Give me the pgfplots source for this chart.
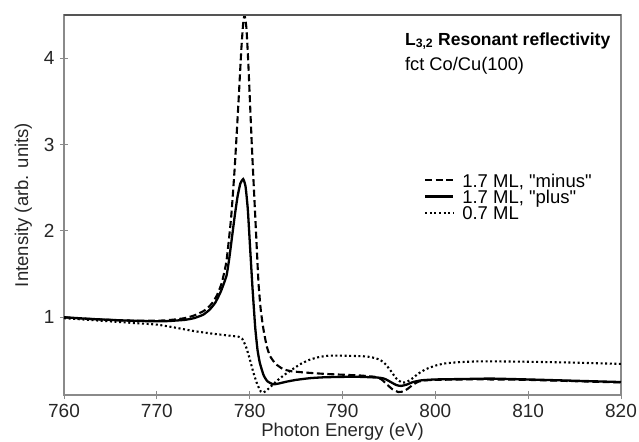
\documentclass[border=0pt]{standalone}
\usepackage{fontspec}
\setmainfont{Liberation Sans}[Ligatures=TeXOff]
\usepackage{pgfplots}
\pgfplotsset{compat=1.18}
\definecolor{axgray}{HTML}{8A8A8A}
\definecolor{topgray}{HTML}{555555}
\newcommand{\lstrut}{\rule[-3.6bp]{0pt}{14bp}}
\begin{document}
\begin{tikzpicture}
\path[use as bounding box] (-64bp,-47bp) rectangle (575bp,395bp);
\begin{axis}[
  at={(0,0)}, anchor=south west,
  scale only axis, width=557bp, height=380bp,
  xmin=760, xmax=820, ymin=0.1, ymax=4.5,
  xtick={760,770,...,820}, ytick={1,2,3,4},
  tick pos=left, tick align=center, major tick length=8bp,
  tick style={axgray, line width=0.9bp},
  axis line style={axgray, line width=1.1bp},
  /pgf/number format/assume math mode=true,
  /pgf/number format/1000 sep={},
  ticklabel style={font=\fontsize{19bp}{22bp}\selectfont, text=black!85},
  xticklabel style={yshift=-2bp},
  yticklabel style={xshift=-2bp},
  xlabel={Photon Energy (eV)},
  ylabel={Intensity (arb. units)},
  label style={font=\fontsize{18.5bp}{22bp}\selectfont, text=black!85},
  xlabel style={at={(axis description cs:0.5,-0.097)}, anchor=center},
  ylabel style={at={(axis description cs:-0.073,0.5)}, anchor=center},
  legend image code/.code={\draw[#1] (0bp,1.5bp) -- (28bp,1.5bp); \path (36bp,0bp);},
  legend style={at={(axis description cs:0.646,0.582)}, anchor=north west,
    draw=none, fill=none, inner sep=0pt, row sep=1.6bp,
    font=\fontsize{18.5bp}{22bp}\selectfont,
    nodes={inner sep=0pt}},
  legend cell align=left,
]
\addplot[black, line width=2.1bp, dash pattern=on 7bp off 3.5bp, smooth, tension=0.3] coordinates {
(760,1.00) (762,0.985) (764,0.975) (766,0.965) (768,0.96) (770,0.96) (771,0.965)
(772,0.975) (773,0.99) (774,1.02) (775,1.07) (775.5,1.11) (776,1.17) (776.5,1.26)
(777,1.40) (777.5,1.65) (778,2.15) (778.4,2.75) (778.8,3.5) (779.1,4.1) (779.3,4.4)
(779.45,4.5) (779.65,4.35) (779.85,3.95) (780.05,3.45) (780.25,2.95) (780.45,2.5)
(780.7,1.95) (780.95,1.4) (781.2,1.08) (781.5,0.85) (781.85,0.66) (782.2,0.55)
(782.8,0.46) (783.6,0.40) (784.5,0.375) (786,0.36) (788,0.345) (790,0.335) (792,0.325)
(793.5,0.31) (794.2,0.28) (794.8,0.22) (795.4,0.165) (796.0,0.135) (796.5,0.14)
(797.0,0.17) (797.6,0.22) (798.2,0.255) (799,0.27) (800,0.275) (803,0.28) (806,0.28)
(810,0.275) (815,0.26) (820,0.245)
};
\addlegendentry{\lstrut 1.7 ML, "minus"}
\addplot[black, line width=2.3bp, smooth, tension=0.3] coordinates {
(760,1.00) (763,0.98) (766,0.965) (769,0.955) (771,0.955) (773,0.97) (774,0.99)
(775,1.03) (775.7,1.09) (776.3,1.17) (776.9,1.30) (777.5,1.48) (777.8,1.68)
(778.1,1.93) (778.4,2.18) (778.7,2.40) (779.0,2.55) (779.3,2.60) (779.55,2.52)
(779.8,2.25) (780.05,1.8) (780.3,1.35) (780.6,0.88) (780.85,0.62) (781.1,0.47)
(781.5,0.33) (781.9,0.26) (782.5,0.225) (783,0.23) (784,0.255) (785,0.275)
(786.5,0.295) (788,0.305) (790,0.31) (792,0.31) (794,0.30) (794.6,0.285) (795.2,0.25)
(795.8,0.215) (796.3,0.205) (796.9,0.22) (797.6,0.25) (798.5,0.27) (800,0.28)
(803,0.285) (806,0.29) (810,0.28) (815,0.265) (820,0.25)
};
\addlegendentry{\lstrut 1.7 ML, "plus"}
\addplot[black, line width=2.1bp, dash pattern=on 2bp off 2.6bp, smooth, tension=0.3] coordinates {
(760,0.99) (762,0.975) (764,0.96) (766,0.945) (768,0.93) (770,0.915) (772,0.88)
(774,0.84) (776,0.81) (778,0.785) (778.8,0.775) (779.2,0.75) (779.6,0.66)
(780.0,0.52) (780.4,0.36) (780.8,0.23) (781.2,0.14) (781.5,0.13) (781.9,0.16)
(782.4,0.21) (783,0.27) (783.7,0.33) (784.5,0.39) (785.5,0.46) (786.5,0.51)
(787.5,0.54) (788.5,0.555) (790,0.555) (792,0.55) (793,0.54) (794,0.51) (794.6,0.46)
(795.2,0.38) (795.8,0.29) (796.4,0.245) (796.9,0.25) (797.5,0.29) (798.2,0.35)
(799,0.40) (800,0.44) (801,0.465) (802.5,0.48) (805,0.49) (810,0.485) (815,0.475)
(820,0.46)
};
\addlegendentry{\lstrut 0.7 ML}
\draw[topgray, line width=1.1bp] (rel axis cs:0,1) -- (rel axis cs:1,1);
\node[anchor=base west, inner sep=0pt, font=\fontsize{17.5bp}{21bp}\selectfont\bfseries]
  at (rel axis cs:0.612,0.921) {L\textsubscript{3,2} Resonant reflectivity};
\node[anchor=base west, inner sep=0pt, font=\fontsize{18.3bp}{22bp}\selectfont]
  at (rel axis cs:0.612,0.855) {fct Co/Cu(100)};
\end{axis}
\end{tikzpicture}
\end{document}
